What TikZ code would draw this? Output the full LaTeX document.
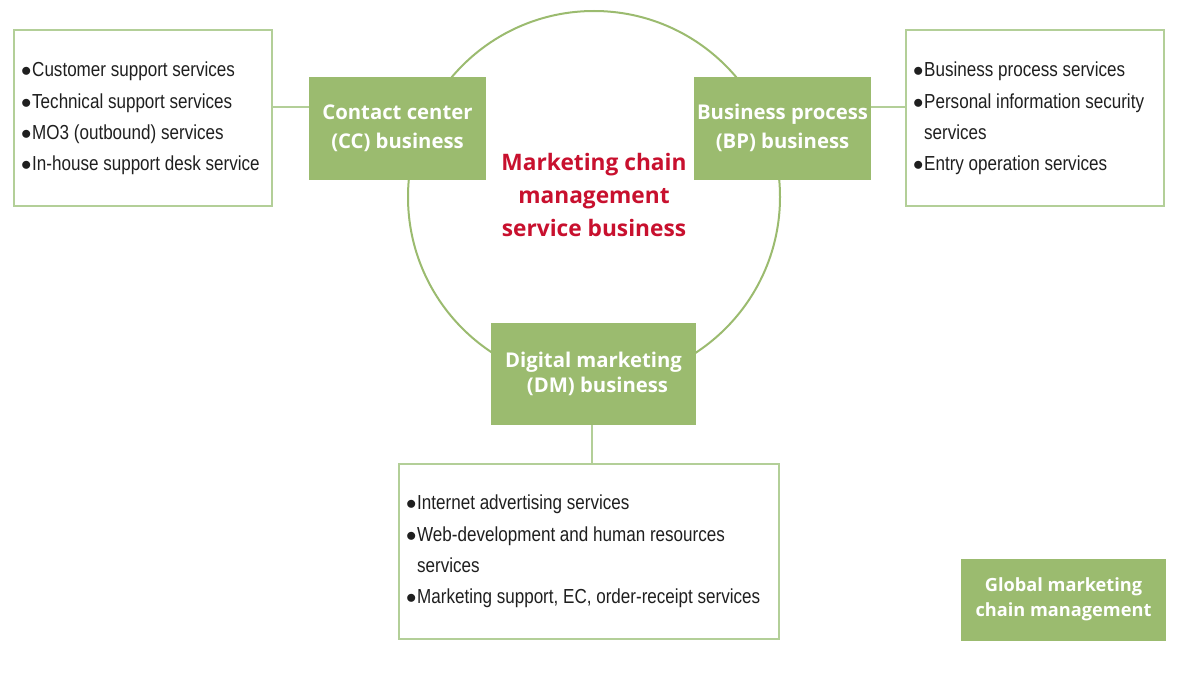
\documentclass[tikz,border=0pt]{standalone}
\usepackage{fontspec}
\setmainfont{Liberation Sans}
\newfontfamily\boxfont{Open Sans}
\newfontfamily\listfont{Liberation Sans}[FakeStretch=0.84]
\definecolor{gfill}{HTML}{9BBB6F}
\definecolor{gline}{HTML}{B3CF98}
\definecolor{mred}{HTML}{C8102E}
\newcommand\bul{\makebox[11pt][l]{\fontsize{21}{21}\selectfont$\bullet$}}
\newcommand\nobul{\hspace*{11pt}}
\begin{document}
\begin{tikzpicture}[x=1pt,y=-1pt,
  gbox/.style={fill=gfill,draw=none,inner sep=0pt},
  gtext/.style={text=white,align=center,font=\boxfont\bfseries\fontsize{20.3}{29}\selectfont},
  lbox/.style={draw=gline,line width=1.3pt,fill=white,inner sep=0pt},
  ltext/.style={anchor=north west,align=left,inner sep=0pt,text=black!88,font=\listfont\fontsize{20.3}{31.3}\selectfont},
  conn/.style={draw=gline,line width=1.3pt}]
\useasboundingbox (0,0) rectangle (1194,682);
% circle
\node[circle,draw=gfill,line width=2pt,minimum size=372pt,inner sep=0pt] (ring) at (594,197) {};
% list boxes
\node[lbox,minimum width=258pt,minimum height=176pt] (lbx) at (143,118) {};
\node[lbox,minimum width=258pt,minimum height=176pt] (rbx) at (1035,118) {};
\node[lbox,minimum width=380pt,minimum height=175pt] (bbx) at (589,551.5) {};
% green boxes
\node[gbox,minimum width=177pt,minimum height=103pt] (cc) at (397.5,128.5) {};
\node[gbox,minimum width=177pt,minimum height=103pt] (bp) at (782.5,128.5) {};
\node[gbox,minimum width=205pt,minimum height=102pt] (dm) at (593.5,374) {};
\node[gbox,minimum width=205pt,minimum height=82pt] (gl) at (1063.5,600) {};
% connectors
\coordinate (c1) at (cc.west |- 0,107);
\coordinate (c2) at (lbx.east |- 0,107);
\draw[conn] (c2) -- (c1);
\coordinate (c3) at (bp.east |- 0,107);
\coordinate (c4) at (rbx.west |- 0,107);
\draw[conn] (c3) -- (c4);
\coordinate (c5) at (592,425);
\coordinate (c6) at (592,464);
\draw[conn] (c5) -- (c6);
% green box text
\node[gtext] (cct) at (397.5,128) {Contact center\\(CC) business};
\node[gtext] (bpt) at (782.5,128) {Business process\\(BP) business};
\node[gtext,font=\boxfont\bfseries\fontsize{20.3}{25}\selectfont] (dmt) at (593.5,374) {Digital marketing\\\hspace*{8pt}(DM) business};
\node[gtext,font=\boxfont\bfseries\fontsize{18.2}{25}\selectfont] (glt) at (1063.5,599.5) {Global marketing\\chain management};
% centre text
\node[text=mred,align=center,font=\boxfont\bfseries\fontsize{22.7}{33}\selectfont] (mt) at (594,195) {Marketing chain\\management\\service business};
% list texts
\node[ltext] (lt) at (21,62) {\bul Customer support services\\\bul Technical support services\\\bul MO3 (outbound) services\\\bul In-house support desk service};
\node[ltext] (rt) at (913,62) {\bul Business process services\\\bul Personal information security\\\nobul services\\\bul Entry operation services};
\node[ltext] (bt) at (406,495) {\bul Internet advertising services\\\bul Web-development and human resources\\\nobul services\\\bul Marketing support, EC, order-receipt services};
\end{tikzpicture}
\end{document}
